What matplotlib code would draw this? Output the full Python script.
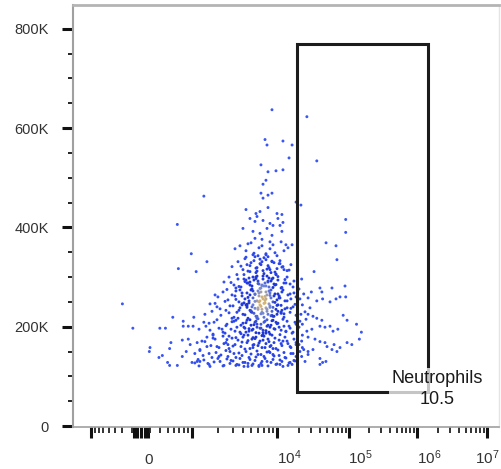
import numpy as np
import matplotlib
matplotlib.use('Agg')
import matplotlib.pyplot as plt
from matplotlib.patches import Rectangle
from matplotlib.ticker import FixedLocator, NullFormatter
from matplotlib.colors import LinearSegmentedColormap

plt.rcParams['font.family'] = ['Liberation Sans', 'DejaVu Sans']
plt.rcParams['mathtext.fontset'] = 'custom'
plt.rcParams['mathtext.rm'] = 'Liberation Sans'
plt.rcParams['mathtext.it'] = 'Liberation Sans:italic'
plt.rcParams['mathtext.bf'] = 'Liberation Sans:bold'

# ---------------- data (x: fluorescence intensity, y: scatter in thousands) ----------------
core_x = [4320,4950,5510,6140,6660,7420,8270,8970,10000,11400,12500,14200,5220,7030,9470,
          2960,3480,3980,4440,4810,5360,5820,6310,6850,7420,7840,8500,9220,10000,11000,12100,13800,15600,4200,5660,6660,8270,10700,
          2380,2730,3120,3480,3770,4090,4440,4690,5080,5360,5820,6140,6480,6850,7230,7630,8050,8500,8970,9470,10300,11400,12500,13800,15200,17200,3290,4320,5660,7420,9730,4810,6660,8730,
          2020,2320,2650,2960,3290,3570,3880,4200,4440,4690,4950,5220,5510,5820,6140,6480,6850,7230,7630,8050,8500,8970,9470,10000,10700,11700,12900,14200,15600,17200,18400,3670,4810,6310,8270,11000,4090,5980,7420,9220,
          1720,1970,2190,2510,2800,3120,3380,3670,3980,4320,4560,4810,5080,5360,5660,5980,6310,6660,7030,7420,7840,8270,8730,9220,9730,10300,11400,12500,13800,15200,16700,18400,2960,3880,5080,6660,8730,11700,4440,5820,7630,10000,
          1460,1630,1820,2080,2320,2580,2880,3120,3380,3670,3980,4200,4440,4690,4950,5220,5510,5820,6140,6480,6850,7230,7630,8050,8500,8970,9470,10300,11400,12500,13800,15200,16700,18400,2450,3290,4320,5660,7420,9730,13300,3770,6480,10700,
          1310,1500,1670,1870,2080,2320,2510,2730,2960,3210,3480,3770,4090,4440,4810,5080,5360,5660,5980,6310,6660,7030,7420,7840,8270,8730,9220,9730,10700,11700,12900,14200,15600,17200,18400,1770,2650,3980,5220,6850,8970,12100,
          1180,1350,1540,1720,1920,2140,2380,2650,2880,3120,3380,3670,3980,4320,4690,5080,5510,5980,6480,7030,7630,8270,8970,9730,10700,11700,12900,14200,15600,17200,18400,1630,2510,3290,4560,6140,8050,11000,15200,2020,4090,6660]
core_y = [353,369,341,359,376,347,357,365,343,371,353,359,345,339,349,
          321,331,315,325,311,333,319,327,313,335,323,309,329,317,333,321,313,325,337,309,331,315,327,
          290,300,284,296,280,305,288,298,282,294,302,286,278,296,288,302,280,292,298,284,294,278,288,300,286,292,278,294,300,282,305,290,284,296,
          260,270,254,264,272,250,262,256,268,248,274,258,266,252,262,270,256,248,264,272,258,250,266,254,262,270,252,264,256,268,260,274,264,252,268,258,248,272,256,262,
          231,240,223,233,242,219,229,238,225,244,217,233,240,227,221,235,244,229,219,238,225,242,231,221,235,244,227,219,238,229,240,223,217,244,229,235,223,233,242,217,231,225,
          201,193,209,197,189,205,195,211,199,189,207,197,213,191,203,195,209,199,187,205,193,211,201,189,203,213,195,207,193,201,211,197,189,205,187,213,189,211,187,209,191,203,197,199,
          171,179,162,175,158,181,168,156,177,164,173,160,183,168,156,175,164,179,162,171,158,181,166,175,160,183,168,156,173,162,179,166,158,175,164,183,164,179,158,183,156,171,
          134,142,126,138,148,130,122,140,132,146,124,136,128,150,138,122,132,144,126,140,130,148,134,124,142,130,138,122,146,132,140,120,152,122,126,120,150,124,128,136,120,122]

core2_x = [3380,3770,4090,4560,4950,5220,5660,5980,6480,7030,7630,8050,8730,9470,10300,11700,12900,14700,
           2580,2880,3210,3570,3880,4200,4560,4810,5220,5510,5980,6310,6660,7030,7420,7840,8270,8970,9730,10700,12100,13300,15200,16700,
           1870,2140,2450,2730,3040,3290,3570,3880,4200,4440,4690,4950,5220,5510,5820,6140,6480,6850,7230,7630,8050,8500,8970,9470,10300,11400,12500,13800,15600,17800,
           1590,1770,1970,2260,2510,2730,2960,3210,3480,3770,4090,4320,4560,4810,5080,5360,5660,5980,6310,6660,7030,7420,7840,8270,8730,9220,10000,11000,12100,13300,14700,16200,17800,
           1240,1420,1590,1770,1970,2190,2380,2580,2800,3040,3290,3570,3880,4200,4560,4950,5220,5510,5820,6140,6480,6850,7230,7630,8050,8500,8970,9470,10300,11400,12500,13800,15200,16700,18400,
           1080,1210,1380,1590,1820,2080,2320,2580,2800,3040,3290,3570,3880,4200,4560,4810,5220,5660,6140,6660,7230,7840,8500,9220,10000,11000,12100,13300,14700,16200,17800,
           4320,4810,5360,5820,6310,6850,7420,8050,8730,9730,11000,12500,4560,5080,5660,6140,6660,7230,7840,8500,9220,10300,11700,4440,4950,5510,5980,6480,7030,7630,8270,8970,10000,11400,12900,4690,5220,5820,6850,8270]
core2_y = [305,322,296,312,329,300,318,292,325,307,316,298,331,310,301,320,295,314,
           275,289,262,281,268,291,259,284,272,265,287,277,260,282,270,290,263,279,285,258,274,288,266,280,
           247,236,251,228,242,255,233,246,224,239,252,230,244,237,221,250,241,227,253,235,246,222,239,249,231,243,226,252,237,245,
           207,185,214,195,202,181,210,191,217,186,199,208,183,214,193,204,188,216,197,182,209,192,203,185,212,196,206,184,215,190,201,187,209,
           152,170,146,177,160,143,166,174,150,161,178,147,169,155,172,145,163,176,151,167,144,173,158,149,170,162,144,177,153,166,148,171,160,146,168,
           127,121,133,124,129,140,121,135,126,131,138,123,142,128,120,134,125,139,122,130,136,121,128,141,125,133,120,137,127,124,131,
           340,323,348,312,336,302,345,319,332,306,327,315,288,276,297,268,283,261,292,274,286,266,279,245,232,251,238,226,247,214,239,221,243,229,236,196,178,205,188,199]

upper_x = [8730,7230,7630,12100,16200,14700,6480,7840,9730,12100,
           7420,6850,6480,6850,7840,8730,18400,4320,5660,6310,
           7840,10000,11700,4810,5510,6850,8270,8970,10300,12100,
           3980,5220,6310,7630,8730,11700,5820,11000,3210,3670,
           4560,6660,8270,13300,16200,5980,7840,1380,660,5510]
upper_y = [637,577,566,574,566,540,526,512,514,516,
           495,487,469,459,465,469,451,436,428,432,
           440,428,426,418,412,414,408,404,418,410,
           398,392,388,398,384,392,422,404,357,363,
           367,363,371,365,365,343,341,463,406,378]

left_x = [-400,-250,400,470,580,680,980,1120,1500,300,
          260,390,430,530,550,500,530,660,760,780,
          900,1030,780,1050,1210,1380,950,1150,1240,1500,
          1000,1150,1240,760,1870,1630,1420,900,850,1080]
left_y = [246,197,197,197,219,317,347,311,331,158,
          150,138,142,156,168,128,122,122,173,201,
          201,201,211,219,195,209,164,168,154,160,
          128,130,130,140,264,246,225,175,150,146]

gate_pts_x = [90000,48000,66000,68000,32700,22000,30000,39500,42000,58000,
              88000,27000,35700,43000,66000,75000,90000,22500,28700,54500,
              24500,27000,31600,35700,42000,20800,22500,83000,94000,39500,
              46400,54500,26000,30500,60000,70000,129000,152000,142000,94000,
              110000,22500,27000,33700,39500,46400,49500,62000,75000,22500,
              27000,31600,58000,68000,27000,39500,43000,47800,22000,24500,
              39500,21500,90000,26000,35700,20200,20800,21500,20200,22000,
              20800,23500,25300,20200,23500]
gate_pts_y = [390,369,363,335,311,296,270,278,270,278,
              282,258,252,256,256,260,260,244,238,250,
              230,225,221,217,213,211,205,223,213,201,
              199,201,191,195,191,195,205,189,175,168,
              164,183,179,175,170,168,160,164,158,158,
              150,154,154,150,144,136,128,130,140,130,
              124,445,416,623,534,276,256,225,199,171,
              150,266,215,164,154]

gate_x = [19000, 1440000]
gate_y = [69, 770]
gate_name = "Neutrophils"
gate_pct = "10.5"

y_ticks = [0, 200, 400, 600, 800]
y_labels = ["0", "200K", "400K", "600K", "800K"]
x_label_vals = [0, 1e4, 1e5, 1e6, 1e7]
x_labels = ["0", r"$10^{4}$", r"$10^{5}$", r"$10^{6}$", r"$10^{7}$"]

# ---------------- biexponential-like axis scale ----------------
KX = np.array([-1e5, -1e4, -1000, -300, 0, 300, 1000, 1e4, 1e5, 1e6, 1e7, 1e8])
KP = np.array([-66, 6, 91, 132, 141, 150, 192, 277, 349, 417, 487, 557], dtype=float)
KU = np.arcsinh(KX / 100.0)


def fwd(v):
    v = np.asarray(v, dtype=float)
    return np.interp(np.arcsinh(v / 100.0), KU, KP)


def inv(p):
    p = np.asarray(p, dtype=float)
    return 100.0 * np.sinh(np.interp(p, KP, KU))


W, H = 502, 469
fig = plt.figure(figsize=(W / 100, H / 100), dpi=100)
ax = fig.add_axes([73 / W, 42 / H, (499 - 73) / W, 422 / H])
ax.set_xscale('function', functions=(fwd, inv))
ax.set_xlim(float(inv(73)), float(inv(499)))
ax.set_ylim(-2, 848)

xs = np.array(core_x + core2_x + upper_x + left_x + gate_pts_x, dtype=float)
ys = np.array(core_y + core2_y + upper_y + left_y + gate_pts_y, dtype=float)

# density based pseudo-colour (smoothed neighbour count), mostly blue
P = ax.transData.transform(np.column_stack([xs, ys]))
D = np.sqrt(((P[:, None, :] - P[None, :, :]) ** 2).sum(-1))
dens = np.exp(-(D / 11.0) ** 2).sum(1)
dn = (dens - dens.min()) / (dens.max() - dens.min())
cmap = LinearSegmentedColormap.from_list('fj', [(0, '#3c58f4'), (0.6, '#2742e6'), (0.85, '#1d34cf'),
                                                (0.95, '#6f86dc'), (1, '#d6b472')])
ax.scatter(xs, ys, c=cmap(dn), s=4.5, marker='o', linewidths=0, zorder=2)

# gate
ax.add_patch(Rectangle((gate_x[0], gate_y[0]), gate_x[1] - gate_x[0], gate_y[1] - gate_y[0],
                       fill=False, ec='#1c1c1c', lw=2.2, zorder=3))
ax.text(1.93e6, 74, gate_name + "\n" + gate_pct, ha='center', va='center', fontsize=13,
        linespacing=1.3, color='#1a1a1a', zorder=4,
        bbox=dict(boxstyle='square,pad=0.15', fc='white', ec='none', alpha=0.75))

# y axis
ax.yaxis.set_major_locator(FixedLocator(y_ticks))
ax.set_yticklabels(y_labels)
ax.yaxis.set_minor_locator(FixedLocator([v for v in range(50, 850, 50) if v % 200]))
ax.tick_params(axis='y', which='major', length=8, width=2.2, color='#111111', pad=9.5,
               labelsize=10.5, labelcolor='#333333')
ax.tick_params(axis='y', which='minor', length=3.8, width=1.4, color='#222222')

# x axis
x_major = [-1000, -200, -100, 0, 100, 200, 1000, 1e4, 1e5, 1e6, 1e7]
x_minor = [-900, -800, -700, -600, -500, -400, -300, 300, 400, 500, 600, 700, 800, 900]
for dec in (1e3, 1e4, 1e5, 1e6):
    x_minor += [k * dec for k in range(2, 10)]
ax.xaxis.set_major_locator(FixedLocator(x_major))
ax.xaxis.set_minor_locator(FixedLocator(x_minor))
ax.xaxis.set_major_formatter(NullFormatter())
ax.xaxis.set_minor_formatter(NullFormatter())
ax.tick_params(axis='x', which='major', length=8, width=2.2, color='#111111')
ax.tick_params(axis='x', which='minor', length=4.5, width=1.3, color='#222222')

dxs = [3, 0, -1, 0, -12]
for v, lab, dx in zip(x_label_vals, x_labels, dxs):
    ax.annotate(lab, xy=(v, 0), xycoords=('data', 'axes fraction'), xytext=(dx, -37),
                textcoords='offset pixels', ha='left', va='baseline', fontsize=11,
                color='#333333', annotation_clip=False)

for s, c, lw in (('left', '#a0a0a0', 1.5), ('bottom', '#a0a0a0', 1.2),
                 ('top', '#b4b4b4', 2.0), ('right', '#e4e4e4', 1.0)):
    ax.spines[s].set_color(c)
    ax.spines[s].set_linewidth(lw)

fig.savefig('out.png', dpi=100)
